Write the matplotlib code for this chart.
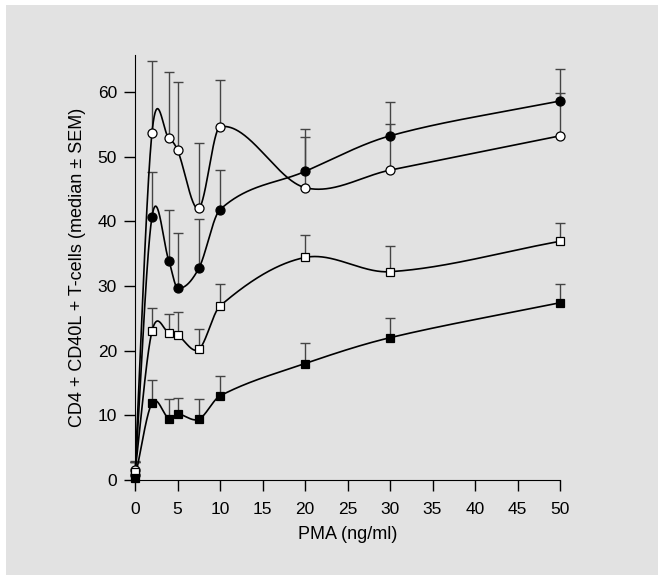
import numpy as np
import matplotlib.pyplot as plt
from matplotlib.patches import Rectangle

plt.rcParams['font.family'] = ['Liberation Sans', 'DejaVu Sans']

# PMA dose (ng/ml)
pma = [0, 2, 4, 5, 7.5, 10, 20, 30, 50]

# medians of the four groups
open_circ = [1.5, 53.7, 52.8, 51.0, 42.0, 54.6, 45.2, 47.9, 53.2]
filled_circ = [0.8, 40.7, 33.8, 29.7, 32.7, 41.8, 47.7, 53.2, 58.6]
open_sq = [1.2, 23.0, 22.8, 22.4, 20.2, 26.9, 34.4, 32.2, 36.9]
filled_sq = [0.3, 11.9, 9.5, 10.2, 9.4, 13.0, 18.0, 22.0, 27.4]

# upper SEM (only drawn upwards)
open_circ_err = [1.5, 11.1, 10.3, 10.5, 10.1, 7.3, 7.8, 7.1, 6.6]
filled_circ_err = [2.0, 6.9, 8.0, 8.5, 7.6, 6.1, 6.5, 5.3, 5.0]
open_sq_err = [1.6, 3.6, 2.9, 3.6, 3.1, 3.4, 3.4, 3.9, 2.8]
filled_sq_err = [2.5, 3.6, 3.0, 2.5, 3.1, 3.0, 3.2, 3.1, 2.9]


# smooth curve through the points (cubic Hermite, Catmull-Rom style tangents)
def smooth(x, y, xs):
    x = np.asarray(x, float)
    y = np.asarray(y, float)
    n = len(x)
    m = np.zeros(n)
    m[0] = (y[1] - y[0]) / (x[1] - x[0])
    m[-1] = (y[-1] - y[-2]) / (x[-1] - x[-2])
    for i in range(1, n - 1):
        m[i] = (y[i + 1] - y[i - 1]) / (x[i + 1] - x[i - 1])
    out = np.empty_like(xs)
    for k, xv in enumerate(xs):
        i = min(max(np.searchsorted(x, xv, side='right') - 1, 0), n - 2)
        h = x[i + 1] - x[i]
        t = (xv - x[i]) / h
        h00 = 2 * t**3 - 3 * t**2 + 1
        h10 = t**3 - 2 * t**2 + t
        h01 = -2 * t**3 + 3 * t**2
        h11 = t**3 - t**2
        out[k] = h00 * y[i] + h10 * h * m[i] + h01 * y[i + 1] + h11 * h * m[i + 1]
    return out


fig = plt.figure(figsize=(6.64, 5.8), dpi=100, facecolor='white')
fig.patches.append(Rectangle((6 / 664, 5 / 580), 652 / 664, 570 / 580,
                             transform=fig.transFigure, facecolor='#e2e2e2',
                             edgecolor='none', zorder=-1))
ax = fig.add_axes([135 / 664, 100 / 580, 425 / 664, 425 / 580])
ax.set_facecolor('none')

xs = np.linspace(0, 50, 2000)
series = [
    (open_circ, open_circ_err, 'o', 'white', 6.5),
    (filled_circ, filled_circ_err, 'o', 'black', 6.5),
    (open_sq, open_sq_err, 's', 'white', 5.2),
    (filled_sq, filled_sq_err, 's', 'black', 6.0),
]
for vals, err, mk, fc, ms in series:
    top = np.array(vals) + np.array(err)
    ax.plot(xs, smooth(pma, vals, xs), color='black', lw=1.2, zorder=2)
    # upper error bar only, with a cap at the top
    ax.vlines(pma, vals, top, color='#444444', lw=1.0, zorder=1, clip_on=False)
    ax.plot(pma, top, linestyle='none', marker='_', markersize=7,
            markeredgewidth=1.0, color='#444444', zorder=1, clip_on=False)
    ax.plot(pma, vals, linestyle='none', marker=mk, markersize=ms,
            markerfacecolor=fc, markeredgecolor='black', markeredgewidth=0.9,
            zorder=3, clip_on=False)

ax.set_xlim(0, 50)
ax.set_ylim(0, 65.7)
ax.set_xticks(range(0, 51, 5))
ax.set_yticks(range(0, 61, 10))
ax.spines['top'].set_visible(False)
ax.spines['right'].set_visible(False)
ax.tick_params(direction='out', length=8, width=1, labelsize=12.5)
ax.tick_params(axis='x', pad=8)
ax.tick_params(axis='y', pad=5)
ax.set_xlabel('PMA (ng/ml)', fontsize=13, labelpad=6)
ax.set_ylabel('CD4 + CD40L + T-cells (median ± SEM)', fontsize=13, labelpad=8)

fig.savefig('out.png', dpi=100, facecolor='white')
